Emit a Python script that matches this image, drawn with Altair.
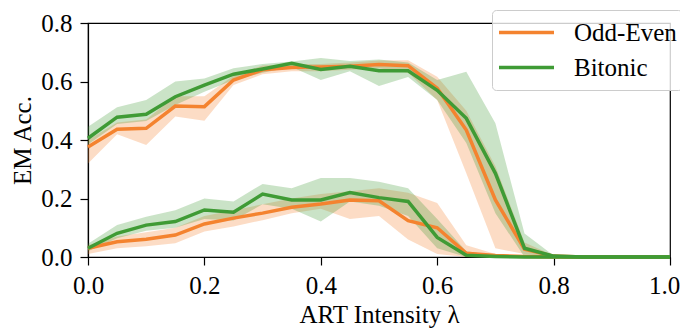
import altair as alt
import pandas as pd

# ART intensity lambda (x)
lam = [0.0, 0.05, 0.1, 0.15, 0.2, 0.25, 0.3, 0.35, 0.4, 0.45, 0.5,
       0.55, 0.6, 0.65, 0.7, 0.75, 0.8, 0.85, 0.9, 0.95, 1.0]

methods = ["Odd-Even", "Bitonic"]

# Upper group
oe_up = [0.376, 0.437, 0.44, 0.516, 0.514, 0.605, 0.64, 0.648, 0.65, 0.652, 0.658,
         0.654, 0.577, 0.434, 0.195, 0.027, 0.003, 0.0, 0.0, 0.0, 0.0]
oe_up_lo = [0.32, 0.42, 0.383, 0.48, 0.466, 0.588, 0.625, 0.635, 0.635, 0.64, 0.645,
            0.63, 0.537, 0.286, 0.03, 0.01, 0.0, 0.0, 0.0, 0.0, 0.0]
oe_up_hi = [0.40, 0.46, 0.47, 0.55, 0.55, 0.62, 0.655, 0.66, 0.66, 0.665, 0.672,
            0.673, 0.616, 0.50, 0.31, 0.05, 0.005, 0.0, 0.0, 0.0, 0.0]

bt_up = [0.406, 0.478, 0.488, 0.548, 0.588, 0.625, 0.643, 0.662, 0.641, 0.652, 0.637,
         0.637, 0.57, 0.474, 0.286, 0.03, 0.003, 0.0, 0.0, 0.0, 0.0]
bt_up_lo = [0.385, 0.455, 0.465, 0.52, 0.565, 0.605, 0.63, 0.65, 0.605, 0.635, 0.585,
            0.615, 0.537, 0.39, 0.15, 0.0, 0.0, 0.0, 0.0, 0.0, 0.0]
bt_up_hi = [0.445, 0.512, 0.537, 0.60, 0.61, 0.645, 0.66, 0.668, 0.68, 0.67, 0.675,
            0.665, 0.605, 0.633, 0.457, 0.08, 0.005, 0.0, 0.0, 0.0, 0.0]

# Lower group
oe_lo = [0.03, 0.052, 0.061, 0.075, 0.113, 0.133, 0.15, 0.17, 0.181, 0.195, 0.192,
         0.124, 0.10, 0.013, 0.005, 0.002, 0.0, 0.0, 0.0, 0.0, 0.0]
oe_lo_lo = [0.01, 0.03, 0.037, 0.047, 0.087, 0.104, 0.126, 0.15, 0.165, 0.13, 0.14,
            0.06, 0.01, 0.0, 0.0, 0.0, 0.0, 0.0, 0.0, 0.0, 0.0]
oe_lo_hi = [0.04, 0.07, 0.085, 0.10, 0.14, 0.16, 0.18, 0.20, 0.215, 0.225, 0.235,
            0.22, 0.185, 0.04, 0.01, 0.005, 0.0, 0.0, 0.0, 0.0, 0.0]

bt_lo = [0.03, 0.081, 0.109, 0.121, 0.161, 0.153, 0.215, 0.195, 0.195, 0.22, 0.203,
         0.19, 0.067, 0.006, 0.002, 0.0, 0.0, 0.0, 0.0, 0.0, 0.0]
bt_lo_lo = [0.02, 0.064, 0.09, 0.10, 0.13, 0.125, 0.18, 0.165, 0.121, 0.19, 0.175,
            0.14, 0.03, 0.0, 0.0, 0.0, 0.0, 0.0, 0.0, 0.0, 0.0]
bt_lo_hi = [0.045, 0.109, 0.138, 0.16, 0.20, 0.19, 0.25, 0.235, 0.27, 0.27, 0.257,
            0.235, 0.13, 0.02, 0.005, 0.0, 0.0, 0.0, 0.0, 0.0, 0.0]

series = [
    ("Odd-Even", "upper", oe_up, oe_up_lo, oe_up_hi),
    ("Odd-Even", "lower", oe_lo, oe_lo_lo, oe_lo_hi),
    ("Bitonic", "upper", bt_up, bt_up_lo, bt_up_hi),
    ("Bitonic", "lower", bt_lo, bt_lo_lo, bt_lo_hi),
]

rows = []
for m, g, ys, los, his in series:
    for xv, yv, lv, hv in zip(lam, ys, los, his):
        rows.append({"method": m, "group": m + "-" + g, "x": xv, "y": yv, "lo": lv, "hi": hv})
df = pd.DataFrame(rows)

colors = ["#f4832f", "#3f9b35"]
FONT = "Liberation Serif"

xenc = alt.X("x:Q", scale=alt.Scale(domain=[0, 1], nice=False),
             axis=alt.Axis(values=[0, 0.2, 0.4, 0.6, 0.8, 1.0], format=".1f",
                           title="ART Intensity λ", titlePadding=4, labelFlush=False,
                           labelOffset={"condition": {"test": "datum.value >= 1", "value": -6},
                                        "value": 0}))
color_scale = alt.Scale(domain=methods, range=colors)

legend = alt.Legend(title=None, orient="none", legendX=404, legendY=-13,
                    symbolType="stroke", symbolSize=3025,
                    symbolStrokeWidth=3.5, symbolOpacity=1, labelFontSize=25,
                    labelFont=FONT, labelColor="black", labelOffset=18,
                    padding=5, strokeColor="#cccccc",
                    fillColor="rgba(255,255,255,0.8)", cornerRadius=4,
                    clipHeight=35, rowPadding=0)

band = alt.Chart(df).mark_area(opacity=0.28).encode(
    x=xenc,
    y=alt.Y("lo:Q"),
    y2="hi:Q",
    color=alt.Color("method:N", scale=color_scale, sort=methods, legend=legend),
    detail="group:N",
)

line = alt.Chart(df).mark_line(strokeWidth=3.5).encode(
    x=xenc,
    y=alt.Y("y:Q", scale=alt.Scale(domain=[0, 0.8], nice=False),
            axis=alt.Axis(values=[0, 0.2, 0.4, 0.6, 0.8], format=".1f",
                          title="EM Acc.", titlePadding=5, labelFlush=False)),
    color=alt.Color("method:N", scale=color_scale, sort=methods, legend=legend),
    detail="group:N",
)

chart = alt.layer(band, line).properties(
    width=582, height=234,
    autosize=alt.AutoSizeParams(type="none"),
    padding={"left": 80, "top": 15, "right": 10, "bottom": 72},
).configure_axis(
    labelFont=FONT, titleFont=FONT, labelFontSize=25, titleFontSize=25,
    titleFontWeight="normal", labelColor="black", titleColor="black",
    domainColor="black", tickColor="black", tickSize=8, labelPadding=8,
    grid=False, domainWidth=1.2, tickWidth=1.2,
).configure_view(stroke="black", strokeWidth=1.2)

chart.save("out.html", embed_options={"renderer": "svg", "actions": False})
